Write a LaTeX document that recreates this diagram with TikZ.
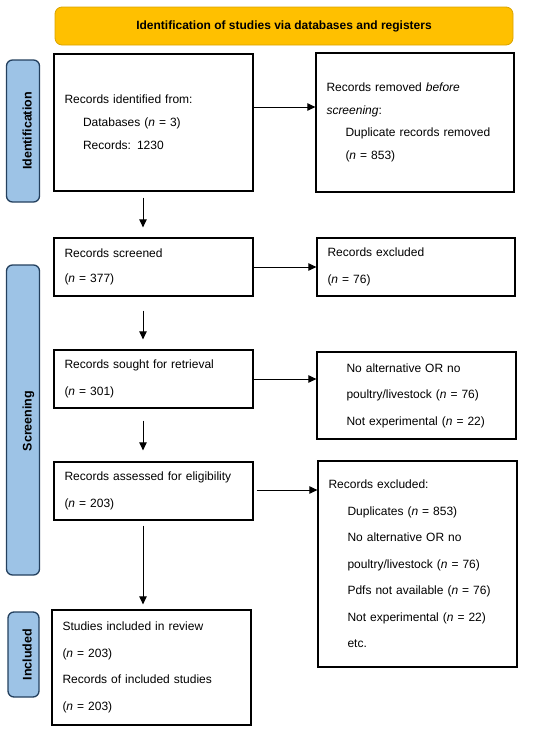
\documentclass[tikz,border=0pt]{standalone}
\usepackage{fontspec}
\setmainfont{Liberation Sans}
\usetikzlibrary{arrows.meta,calc}
\definecolor{titlefill}{HTML}{FFC000}
\definecolor{titleedge}{HTML}{D9A300}
\definecolor{barfill}{HTML}{9DC3E6}
\definecolor{baredge}{HTML}{24405E}
\begin{document}
\begin{tikzpicture}[x=1pt,y=-1pt,
  box/.style={draw=black,line width=1.3pt,rectangle,align=left,inner xsep=10.5pt,inner ysep=0pt,
    text width=178pt,minimum width=199pt,font=\fontsize{12}{26.5}\selectfont},
  titlebar/.style={draw=titleedge,fill=titlefill,line width=0.8pt,rounded corners=7pt,
    minimum width=458pt,minimum height=38pt,font=\fontsize{12}{14}\selectfont\bfseries},
  sidebar/.style={draw=baredge,fill=barfill,line width=1.3pt,rounded corners=6pt,minimum width=33pt},
  sidelabel/.style={rotate=90,anchor=base,font=\fontsize{12.5}{14}\selectfont\bfseries,inner sep=0pt},
  arr/.style={-{Triangle[length=8pt,width=7.5pt]},line width=0.8pt,black}]
\useasboundingbox (0,0) rectangle (550,732);
% title
\node[titlebar] (title) at (284,26) {Identification of studies via databases and registers};
% side bars
\node[sidebar,minimum height=142pt] (idbar) at (23,131) {};
\node[sidelabel] (idlab) at (31.7,131) {Identification};
\node[sidebar,minimum height=310pt] (scrbar) at (23,420) {};
\node[sidelabel] (scrlab) at (31.7,421) {Screening};
\node[sidebar,minimum height=85pt,minimum width=31pt] (incbar) at (23.5,654.5) {};
\node[sidelabel] (inclab) at (31.7,654.5) {Included};
% boxes
\node[box,minimum height=137pt,font=\fontsize{12}{23}\selectfont] (b1) at (153.5,122.5)
  {Records identified from:\\ \hspace*{18.5pt}Databases (\textit{n} = 3)\\ \hspace*{18.5pt}Records: 1230};
\node[box,minimum height=139pt,text width=177pt,minimum width=198pt,font=\fontsize{12}{22.7}\selectfont] (r1) at (415,122.5)
  {Records removed \textit{before}\\ \textit{screening}:\\ \hspace*{19pt}Duplicate records removed\\ \hspace*{19pt}(\textit{n} = 853)};
\node[box,minimum height=58pt,font=\fontsize{12}{25}\selectfont] (b2) at (153.5,267)
  {Records screened\\ (\textit{n} = 377)};
\node[box,minimum height=58pt,text width=177pt,minimum width=198pt] (r2) at (416,267)
  {Records excluded\\ (\textit{n} = 76)};
\node[box,minimum height=58pt] (b3) at (153.5,379)
  {Records sought for retrieval\\ (\textit{n} = 301)};
\node[box,minimum height=87pt] (r3) at (416.5,395.5)
  {\hspace*{19pt}No alternative OR no\\ \hspace*{19pt}poultry/livestock (\textit{n} = 76)\\ \hspace*{19pt}Not experimental (\textit{n} = 22)};
\node[box,minimum height=58pt] (b4) at (153.5,491)
  {Records assessed for eligibility\\ (\textit{n} = 203)};
\node[box,minimum height=206pt] (r4) at (417.5,564)
  {Records excluded:\\ \hspace*{19pt}Duplicates (\textit{n} = 853)\\ \hspace*{19pt}No alternative OR no\\ \hspace*{19pt}poultry/livestock (\textit{n} = 76)\\ \hspace*{19pt}Pdfs not available (\textit{n} = 76)\\ \hspace*{19pt}Not experimental (\textit{n} = 22)\\ \hspace*{19pt}etc.};
\node[box,minimum height=115pt] (b5) at (151.5,667.5)
  {Studies included in review\\ (\textit{n} = 203)\\ Records of included studies\\ (\textit{n} = 203)};
% connector end points
\coordinate (h1) at ([yshift=15.5pt]b1.east);
\coordinate (h4) at ([xshift=3pt,yshift=1pt]b4.east);
% horizontal arrows
\draw[arr] (h1) -- (h1 -| r1.west);
\draw[arr] (b2.east) -- (b2.east -| r2.west);
\draw[arr] (b3.east) -- (b3.east -| r3.west);
\draw[arr] (h4) -- (h4 -| r4.west);
% vertical arrows
\draw[arr] ([xshift=-10.5pt,yshift=-6pt]b1.south) -- ([xshift=-10.5pt,yshift=10pt]b2.north);
\draw[arr] ([xshift=-10.5pt,yshift=-14pt]b2.south) -- ([xshift=-10.5pt,yshift=10pt]b3.north);
\draw[arr] ([xshift=-10.5pt,yshift=-12pt]b3.south) -- ([xshift=-10.5pt,yshift=11pt]b4.north);
\draw[arr] ([xshift=-10.5pt,yshift=-5pt]b4.south) -- ([xshift=-8.5pt,yshift=5pt]b5.north);
\end{tikzpicture}
\end{document}
